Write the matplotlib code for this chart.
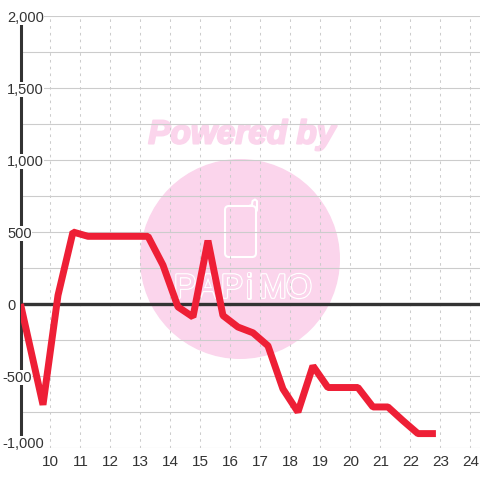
import matplotlib.pyplot as plt
import matplotlib.patheffects as pe
from matplotlib.patches import Circle, FancyBboxPatch
from matplotlib.transforms import ScaledTranslation

plt.rcParams['font.family'] = ['Liberation Sans', 'DejaVu Sans']

# half hour samples, first one sits on the axis
hours = [9, 9.75, 10.25, 10.75, 11.25, 11.75, 12.25, 12.75, 13.25, 13.75, 14.25,
         14.75, 15.25, 15.75, 16.25, 16.75, 17.25, 17.75, 18.25, 18.75, 19.25,
         19.75, 20.25, 20.75, 21.25, 21.75, 22.25, 22.85]
values = [0, -700, 60, 500, 470, 470, 470, 470, 470, 270, -20,
          -90, 440, -80, -160, -200, -290, -590, -750, -430, -580,
          -580, -580, -715, -715, -810, -900, -900]

x_ticks = list(range(10, 25))
y_grid = [-1000, -750, -500, -250, 250, 500, 750, 1000, 1250, 1500, 1750, 2000]
y_labels = [2000, 1500, 1000, 500, 0, -500, -1000]

PINK = '#fbd5ec'
DARK = '#333333'

fig = plt.figure(figsize=(4.8, 4.8), dpi=100, facecolor='white')

# watermark layer in pixel coordinates
bg = fig.add_axes([0, 0, 1, 1], zorder=0)
bg.set_xlim(0, 480)
bg.set_ylim(480, 0)
bg.axis('off')
bg.add_patch(Circle((240, 259), 100, fc=PINK, ec='none'))
bg.text(242, 135, 'Powered by', color=PINK, fontsize=24, fontweight='bold',
        fontstyle='italic', ha='center', va='center',
        path_effects=[pe.withStroke(linewidth=1.5, foreground=PINK)])
bg.add_patch(FancyBboxPatch((225, 206), 31, 51, boxstyle='round,pad=0,rounding_size=4',
                            fc='none', ec='white', lw=1.5))
bg.plot([249, 252, 252.5, 255, 257, 257, 256], [206, 205, 201, 199.5, 201, 210, 212],
        color='white', lw=1.5, solid_capstyle='round')
# letters are placed one by one, the logo spaces them unevenly
for letter, lx in zip('PAPiMO', [185, 208, 232, 249, 273, 299]):
    bg.text(lx, 289, letter, color=PINK, fontsize=24, ha='center', va='center',
            path_effects=[pe.withStroke(linewidth=2, foreground='white'), pe.Normal()])

# main plot
ax = fig.add_axes([20.5 / 480, 32 / 480, 459.5 / 480, 432 / 480], zorder=1)
ax.patch.set_alpha(0)
ax.set_xlim(9, 24.32)
ax.set_ylim(-1000, 2000)

for s in ['top', 'right', 'bottom']:
    ax.spines[s].set_visible(False)
ax.spines['left'].set_color(DARK)
ax.spines['left'].set_linewidth(2.2)
ax.spines['left'].set_zorder(1.5)

ax.set_axisbelow(True)
ax.set_xticks(x_ticks)
ax.set_xticklabels([str(t) for t in x_ticks], fontsize=11, color=DARK)
for lab in ax.get_xticklabels():
    lab.set_transform(lab.get_transform() + ScaledTranslation(0.01, 0, fig.dpi_scale_trans))
ax.set_yticks(y_grid)
ax.set_yticklabels([])
ax.tick_params(length=0, pad=5)
ax.grid(axis='x', color='#cccccc', lw=0.75, ls=(0, (2.5, 4)))
ax.grid(axis='y', color='#cccccc', lw=0.8)

ax.axhline(0, color=DARK, lw=2.4, zorder=1.6)

ax.plot(hours, values, color='#ee1f36', lw=5, solid_capstyle='butt',
        solid_joinstyle='bevel', zorder=4)

# y labels sit over the axis line with a white box behind them
for v in y_labels:
    px = 2 if v < 0 else 7
    raise_px = 6 if v == -1000 else 0
    trans = ax.get_yaxis_transform() + ScaledTranslation(
        (px - 20.5) / 100, raise_px / 100, fig.dpi_scale_trans)
    ax.text(0, v, f'{v:,}', transform=trans, fontsize=10.5, color=DARK, ha='left',
            va='center_baseline', zorder=3, clip_on=False,
            bbox=dict(fc='white', ec='none', pad=0.3))

fig.savefig('out.png', dpi=100)
